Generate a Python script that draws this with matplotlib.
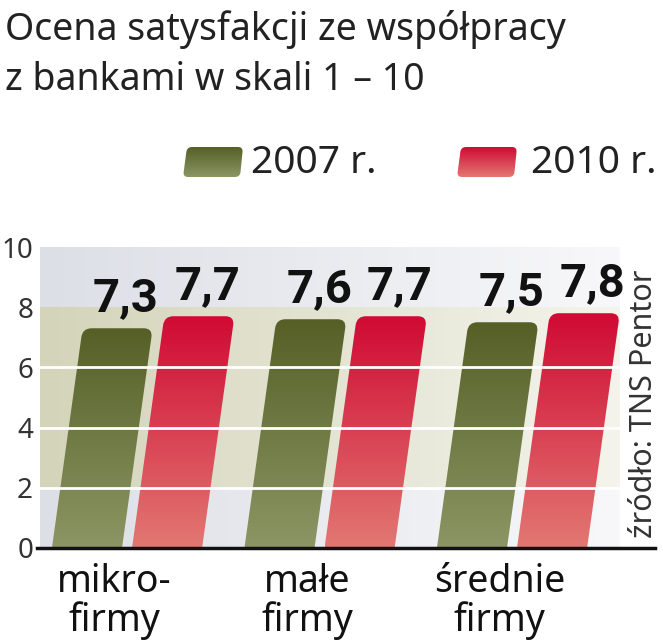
import numpy as np
import matplotlib
matplotlib.use('Agg')
import matplotlib.pyplot as plt
from matplotlib.path import Path
from matplotlib.patches import PathPatch

groups = ['mikro-\nfirmy', 'małe\nfirmy', 'średnie\nfirmy']
series = ['2007 r.', '2010 r.']
vals_2007 = [7.3, 7.6, 7.5]
vals_2010 = [7.7, 7.7, 7.8]
yticks = [0, 2, 4, 6, 8, 10]

title = 'Ocena satysfakcji ze współpracy\nz bankami w skali 1 – 10'
source = 'źródło: TNS Pentor'

FAM = ['Noto Sans', 'DejaVu Sans']
COND = dict(family=FAM, stretch='condensed')
BOLD = dict(family=['Roboto', 'DejaVu Sans'], fontweight='bold')

green_top, green_bot = (85, 95, 38), (140, 150, 100)
red_top, red_bot = (208, 10, 52), (226, 120, 114)

W, H = 663, 640
fig = plt.figure(figsize=(W / 100, H / 100), dpi=100)
ax = fig.add_axes([40 / W, 92 / H, 580 / W, 301 / H])
XLIM = (-0.452, 2.561)
ax.set_xlim(*XLIM)
ax.set_ylim(0, 10)
ax.set_autoscale_on(False)


def rounded(ax, pts, radii):
    # build a polygon path with rounded corners, radii in pixels
    disp = ax.transData.transform(np.array(pts, float))
    n = len(disp)
    verts, codes = [], []
    for i in range(n):
        p, prev, nxt = disp[i], disp[i - 1], disp[(i + 1) % n]
        r = radii[i]
        if r == 0:
            verts.append(p)
            codes.append(Path.LINETO)
        else:
            d1 = (prev - p) / np.linalg.norm(prev - p)
            d2 = (nxt - p) / np.linalg.norm(nxt - p)
            verts += [p + d1 * r, p, p + d2 * r]
            codes += [Path.LINETO, Path.CURVE3, Path.CURVE3]
    codes[0] = Path.MOVETO
    verts.append(verts[0])
    codes.append(Path.CLOSEPOLY)
    data = ax.transData.inverted().transform(np.array(verts))
    return Path(data, codes)


def gradient(c_top, c_bot, n=200):
    t = np.linspace(0, 1, n)[:, None]
    top, bot = np.array(c_top) / 255, np.array(c_bot) / 255
    return (bot + (top - bot) * t)[:, None, :]


# background panel
nx, ny = 300, 500
tx = np.linspace(0, 1, nx)[None, :, None]
yy = np.linspace(0, 10, ny)[:, None, None]
gray = np.array([220, 223, 230]) / 255 + (np.array([248, 248, 250]) - np.array([220, 223, 230])) / 255 * tx
band = np.array([212, 212, 186]) / 255 + (np.array([244, 244, 236]) - np.array([212, 212, 186])) / 255 * tx
in_band = (yy >= 2) & (yy <= 8)
bg = np.where(in_band, band, gray)
ax.imshow(bg, extent=[XLIM[0], XLIM[1], 0, 10], origin='lower', aspect='auto',
          interpolation='nearest', zorder=0)

w = 0.364
off = 0.208
slant = 4.2 / 192.5
for j, (vals, ctop, cbot) in enumerate([(vals_2007, green_top, green_bot),
                                         (vals_2010, red_top, red_bot)]):
    for i, v in enumerate(vals):
        xc = i + (off if j else -off)
        pts = [(xc - w / 2, 0), (xc + w / 2, 0),
               (xc + w / 2 + slant * v, v), (xc - w / 2 + slant * v, v)]
        path = rounded(ax, pts, [0, 0, 9, 9])
        patch = PathPatch(path, fc='none', ec='none', zorder=2)
        ax.add_patch(patch)
        img = ax.imshow(gradient(ctop, cbot), extent=[xc - w / 2, xc + w / 2 + slant * v, 0, v],
                        origin='lower', aspect='auto', interpolation='bilinear', zorder=2)
        img.set_clip_path(patch)
        ax.text(xc + slant * v + 0.042, v + 0.58, f'{v:.1f}'.replace('.', ','),
                ha='center', va='baseline', fontsize=34, color='#111', zorder=6, **BOLD)

ax.set_xlim(*XLIM)
ax.set_ylim(0, 10)

for y in [2, 4, 6]:
    ax.axhline(y, color='white', lw=2, zorder=4)
ax.axhline(0, xmin=-0.005, xmax=(655 - 40) / 580, color='#111', lw=2.5,
           clip_on=False, zorder=5)

for s in ax.spines.values():
    s.set_visible(False)
ax.set_yticks(yticks)
ax.set_yticklabels([str(t) for t in yticks], fontsize=20, color='#333',
                   fontweight='light', **COND)
ax.tick_params(axis='y', length=0, pad=5)
ax.set_xticks([i - 0.065 for i in range(len(groups))])
ax.set_xticklabels(groups, fontsize=27, color='#111', linespacing=1.0, **COND)
ax.tick_params(axis='x', length=0, pad=11)

# legend drawn in pixel space
lax = fig.add_axes([0, 0, 1, 1])
lax.set_xlim(0, W)
lax.set_ylim(H, 0)
lax.set_autoscale_on(False)
lax.axis('off')
for k, (name, ctop, cbot, x0, tx0) in enumerate([(series[0], green_top, green_bot, 183, 251),
                                                 (series[1], red_top, red_bot, 457, 531)]):
    pts = [(x0, 177), (x0 + 57, 177), (x0 + 60, 147), (x0 + 4, 147)]
    path = rounded(lax, pts, [5, 5, 5, 5])
    patch = PathPatch(path, fc='none', ec='none')
    lax.add_patch(patch)
    img = lax.imshow(gradient(ctop, cbot)[::-1], extent=[x0, x0 + 60, 177, 147],
                     origin='upper', aspect='auto', interpolation='bilinear')
    img.set_clip_path(patch)
    lax.text(tx0, 163, name, ha='left', va='center', fontsize=28, color='#222',
             fontweight='light', **COND)
lax.set_xlim(0, W)
lax.set_ylim(H, 0)

fig.text(5 / W, 1 - 10 / H, title, ha='left', va='top', fontsize=27, color='#222',
         linespacing=1.4, fontweight='light', **COND)
fig.text(644 / W, 1 - 538 / H, source, rotation=90, ha='center', va='bottom',
         fontsize=22, color='#333', fontweight='light', **COND)

fig.savefig('out.png', dpi=100)
